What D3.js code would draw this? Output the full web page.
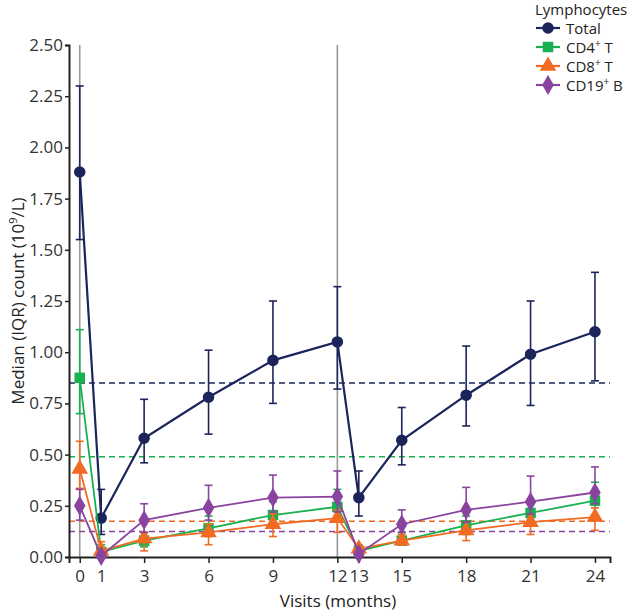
<!DOCTYPE html>
<html><head><meta charset="utf-8">
<script src="https://cdn.jsdelivr.net/npm/d3@7/dist/d3.min.js"></script>
<style>
body{margin:0;background:#fff;}
svg{display:block;font-family:"Open Sans",sans-serif;}
</style></head>
<body><svg id="c" width="629" height="613"></svg>
<script>
const visits = [0,1,3,6,9,12,13,15,18,21,24];
const xTickLabels = ["0","1","3","6","9","12","13","15","18","21","24"];
const yTicks = [0,0.25,0.5,0.75,1.0,1.25,1.5,1.75,2.0,2.25,2.5];

const totalMed = [1.88,0.19,0.58,0.78,0.96,1.05,0.29,0.57,0.79,0.99,1.10];
const totalLo  = [1.55,0.11,0.46,0.60,0.75,0.82,0.20,0.45,0.64,0.74,0.86];
const totalHi  = [2.30,0.33,0.77,1.01,1.25,1.32,0.42,0.73,1.03,1.25,1.39];

const cd4Med = [0.875,0.025,0.08,0.14,0.205,0.245,0.03,0.08,0.155,0.215,0.275];
const cd4Lo  = [0.70,0.01,0.05,0.10,0.16,0.19,0.02,0.06,0.11,0.17,0.20];
const cd4Hi  = [1.11,0.06,0.12,0.20,0.27,0.33,0.05,0.12,0.20,0.28,0.365];

const cd8Med = [0.43,0.03,0.09,0.12,0.16,0.19,0.04,0.08,0.13,0.17,0.195];
const cd8Lo  = [0.335,0.01,0.03,0.06,0.10,0.12,0.02,0.06,0.08,0.11,0.13];
const cd8Hi  = [0.565,0.075,0.12,0.16,0.21,0.23,0.06,0.11,0.17,0.21,0.24];

const cd19Med = [0.25,0.005,0.18,0.24,0.29,0.295,0.015,0.16,0.23,0.27,0.315];
const cd19Lo  = [0.18,0.0,0.12,0.18,0.22,0.22,0.005,0.12,0.17,0.21,0.26];
const cd19Hi  = [0.33,0.02,0.26,0.35,0.40,0.42,0.03,0.23,0.34,0.395,0.44];

const refLines = [0.85, 0.49, 0.175, 0.125];
const vLines = [0, 12];
const seriesLabels = [["Total"],["CD4","+"," T"],["CD8","+"," T"],["CD19","+"," B"]];
const colors = ["#1b255b","#17b24f","#f26b22","#8a44a0"];
const symbols = [d3.symbolCircle, d3.symbolSquare, d3.symbolTriangle, d3.symbolDiamond];
const symSizes = [105, 110, 120, 115];

const svg = d3.select("#c");
const x = d3.scaleLinear().domain([-0.5, 24.7]).range([69, 610]);
const y = d3.scaleLinear().domain([0, 2.5]).range([557, 45]);

// vertical grey lines
svg.selectAll(".vl").data(vLines).enter().append("line")
  .attr("x1", d=>x(d)).attr("x2", d=>x(d)).attr("y1", y(2.5)).attr("y2", y(0))
  .attr("stroke", "#9a9a9a").attr("stroke-width", 1.6);

// reference dashed lines
svg.selectAll(".rl").data(refLines).enter().append("line")
  .attr("x1", x(-0.5)).attr("x2", x(24.7)).attr("y1", d=>y(d)).attr("y2", d=>y(d))
  .attr("stroke", (d,i)=>colors[i]).attr("stroke-width", 1.5).attr("stroke-dasharray", "6,4");

// axes
const yAxis = d3.axisLeft(y).tickValues(yTicks).tickFormat(d3.format(".2f")).tickSizeOuter(0).tickSize(4).tickPadding(2);
const gy = svg.append("g").attr("transform", `translate(${x(-0.5)},0)`).call(yAxis);
gy.selectAll("text").attr("font-size", 17).attr("fill", "#333").attr("font-family","Open Sans");
gy.selectAll("line").attr("stroke", "#222").attr("stroke-width", 1.5);
gy.select(".domain").attr("stroke", "#222").attr("stroke-width", 2);

const xAxis = d3.axisBottom(x).tickValues(visits).tickFormat((d,i)=>xTickLabels[i]).tickSizeOuter(0).tickSize(6);
const gx = svg.append("g").attr("transform", `translate(0,${y(0)})`).call(xAxis);
gx.selectAll("text").attr("font-size", 17).attr("fill", "#333").attr("font-family","Open Sans").attr("dy","0.95em");
gx.selectAll("line").attr("stroke", "#222").attr("stroke-width", 1.5);
gx.select(".domain").attr("stroke", "#222").attr("stroke-width", 2);

// axis titles
svg.append("text").attr("x", 338).attr("y", 607).attr("text-anchor","middle")
  .attr("font-size", 17).attr("fill","#222").text("Visits (months)");
const yl = svg.append("text").attr("transform", "translate(24,301) rotate(-90)").attr("text-anchor","middle")
  .attr("font-size", 17).attr("fill","#222");
yl.append("tspan").text("Median (IQR) count (10");
yl.append("tspan").attr("font-size", 11).attr("dy", -7).text("9");
yl.append("tspan").attr("dy", 7).text("/L)");

// series
const allMed = [totalMed, cd4Med, cd8Med, cd19Med];
const allLo = [totalLo, cd4Lo, cd8Lo, cd19Lo];
const allHi = [totalHi, cd4Hi, cd8Hi, cd19Hi];
const lineGen = d3.line().x(d=>x(d.v)).y(d=>y(d.m));

allMed.forEach((med, s) => {
  const data = visits.map((v,i)=>({v, m: med[i], lo: allLo[s][i], hi: allHi[s][i]}));
  const g = svg.append("g");
  const c = colors[s];
  const sw = s === 0 ? 2.2 : 1.8;
  g.selectAll(".eb").data(data).enter().append("line")
    .attr("x1", d=>x(d.v)).attr("x2", d=>x(d.v)).attr("y1", d=>y(d.lo)).attr("y2", d=>y(d.hi))
    .attr("stroke", c).attr("stroke-width", 1.6);
  ["lo","hi"].forEach(k => {
    g.selectAll(".cap"+k).data(data).enter().append("line")
      .attr("x1", d=>x(d.v)-4).attr("x2", d=>x(d.v)+4).attr("y1", d=>y(d[k])).attr("y2", d=>y(d[k]))
      .attr("stroke", c).attr("stroke-width", 1.6);
  });
  g.append("path").datum(data).attr("d", lineGen).attr("fill","none").attr("stroke", c).attr("stroke-width", sw);
  g.selectAll(".pt").data(data).enter().append("path")
    .attr("d", d3.symbol().type(symbols[s]).size(symSizes[s]))
    .attr("transform", d=>`translate(${x(d.v)},${y(d.m)})`)
    .attr("fill", c);
});

// legend
const lg = svg.append("g");
lg.append("text").attr("x", 535).attr("y", 15).attr("font-size", 15).attr("fill","#222").text("Lymphocytes");
seriesLabels.forEach((lab, i) => {
  const yy = 28 + i*19;
  lg.append("line").attr("x1", 536).attr("x2", 560).attr("y1", yy).attr("y2", yy)
    .attr("stroke", colors[i]).attr("stroke-width", 2.2);
  lg.append("path").attr("d", d3.symbol().type(symbols[i]).size(symSizes[i])())
    .attr("transform", `translate(548,${yy})`).attr("fill", colors[i]);
  const t = lg.append("text").attr("x", 566).attr("y", yy+5.5).attr("font-size", 15).attr("fill","#222");
  t.append("tspan").text(lab[0]);
  if (lab.length > 2) {
    t.append("tspan").attr("font-size", 10).attr("dy", -6).text(lab[1]);
    t.append("tspan").attr("dy", 6).text(lab[2]);
  }
});
</script></body></html>
